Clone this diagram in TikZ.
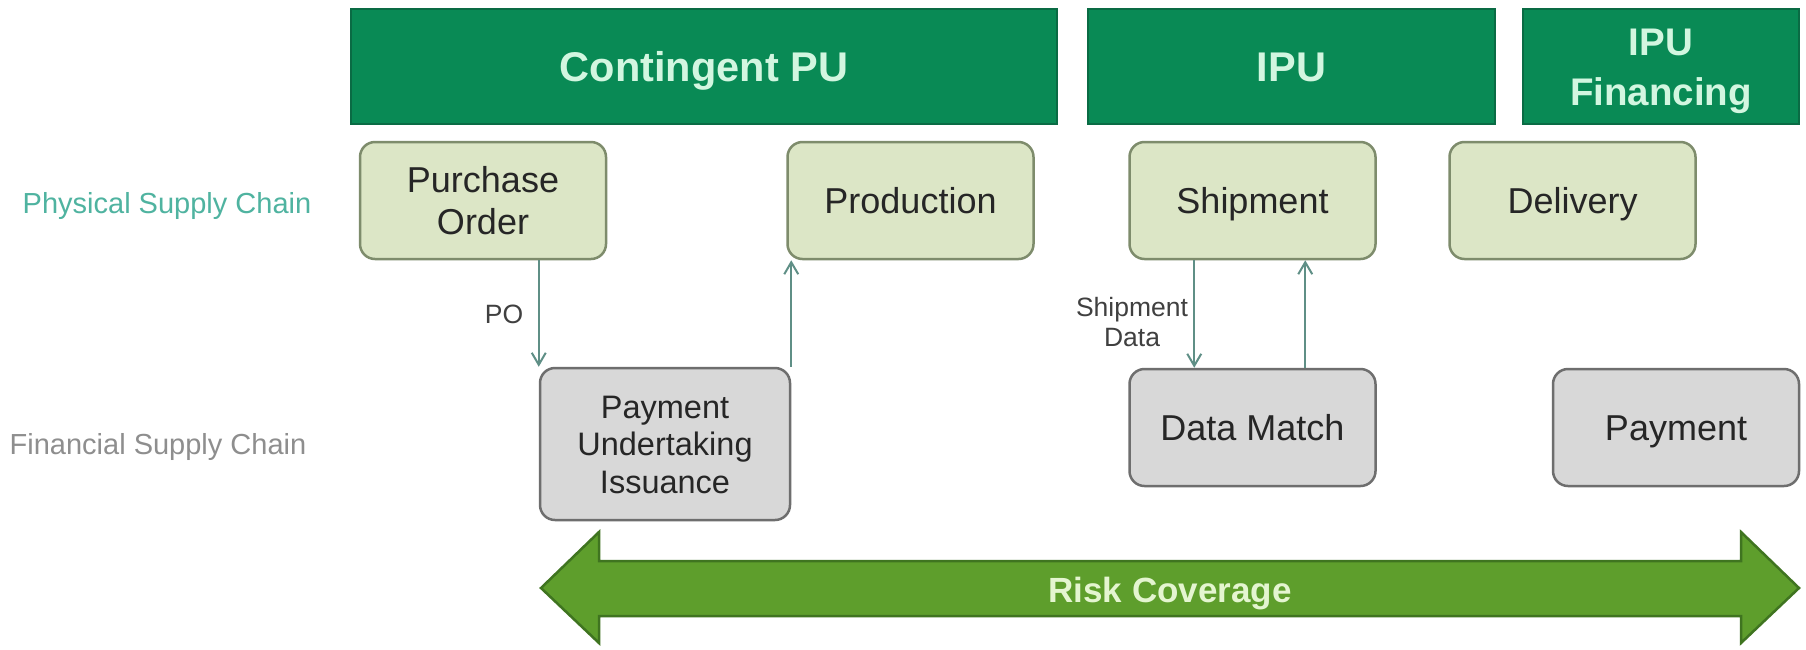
\documentclass[tikz,border=0pt]{standalone}
\usepackage{fontspec}
\setmainfont{Liberation Sans}
\usetikzlibrary{arrows.meta}
\definecolor{hdrfill}{HTML}{098A55}
\definecolor{hdrdraw}{HTML}{0A6B44}
\definecolor{hdrtext}{HTML}{D2F6E0}
\definecolor{physfill}{HTML}{DCE6C6}
\definecolor{physdraw}{HTML}{7E8C6C}
\definecolor{finfill}{HTML}{D8D8D8}
\definecolor{findraw}{HTML}{6E6E6E}
\definecolor{conncol}{HTML}{5F8F86}
\definecolor{physlabel}{HTML}{4FB3A0}
\definecolor{finlabel}{HTML}{8E8E8E}
\definecolor{riskfill}{HTML}{5E9E2C}
\definecolor{riskdraw}{HTML}{3F7420}
\definecolor{risktext}{HTML}{E4F5D0}
\newcommand{\captopstrut}{\rule{0pt}{1.06em}}
\newcommand{\capbotstrut}{\rule[-0.34em]{0pt}{0pt}}
\begin{document}
\begin{tikzpicture}[x=1pt,y=-1pt,
  capcenter/.style={execute at begin node=\captopstrut,execute at end node=\capbotstrut},
  hdrbox/.style={fill=hdrfill,draw=hdrdraw,line width=1.5pt,text=hdrtext,
    font=\fontsize{41.5}{48}\selectfont\bfseries,align=center,inner sep=0pt,capcenter},
  physbox/.style={fill=physfill,draw=physdraw,line width=2.5pt,rounded corners=15pt,
    minimum width=246pt,minimum height=117pt,font=\fontsize{36}{41.5}\selectfont,
    align=center,text=black!85,inner sep=0pt,capcenter},
  finbox/.style={fill=finfill,draw=findraw,line width=2.5pt,rounded corners=15pt,
    minimum width=246pt,minimum height=117pt,font=\fontsize{36}{41.5}\selectfont,
    align=center,text=black!85,inner sep=0pt,capcenter},
  conn/.style={draw=conncol,line width=2pt,-{Straight Barb[length=12pt,width=14pt,line width=2pt]}},
  rowlabel/.style={font=\fontsize{29}{34}\selectfont,inner sep=0pt,capcenter},
  smalllabel/.style={font=\fontsize{26.5}{30}\selectfont,text=black!75,align=center,inner sep=0pt}
]
\useasboundingbox (0,0) rectangle (1806,649);
\fill[white] (0,0) rectangle (1806,649);

% headers
\node[hdrbox,minimum width=706pt,minimum height=115pt] (cpu) at (704,66.5) {Contingent PU};
\node[hdrbox,minimum width=407pt,minimum height=115pt] (ipu) at (1291.5,66.5) {IPU};
\node[hdrbox,minimum width=276pt,minimum height=115pt,font=\fontsize{38.5}{50}\selectfont\bfseries] (ipuf) at (1661,66.5) {\captopstrut IPU\\Financing\capbotstrut};

% row labels
\node[rowlabel,text=physlabel] (plabel) at (167,203) {Physical Supply Chain};
\node[rowlabel,text=finlabel] (flabel) at (158,444) {Financial Supply Chain};

% physical boxes
\node[physbox] (po) at (483,200.5) {\captopstrut Purchase\\Order\capbotstrut};
\node[physbox] (prod) at (910.5,200.5) {Production};
\node[physbox] (ship) at (1252.5,200.5) {Shipment};
\node[physbox] (deliv) at (1572.5,200.5) {Delivery};

% financial boxes
\node[finbox,minimum width=250pt,minimum height=152pt,font=\fontsize{32.5}{37.5}\selectfont] (pui) at (665,444) {\captopstrut Payment\\Undertaking\\Issuance\capbotstrut};
\node[finbox] (dm) at (1252.5,427.5) {Data Match};
\node[finbox] (pay) at (1676,427.5) {Payment};

% connectors
\draw[conn] (pui.north west |- po.south) -- (pui.north west);
\draw[conn] (pui.north east) -- (pui.north east |- prod.south);
\draw[conn] ([xshift=66pt]ship.south west) -- ([xshift=66pt]dm.north west);
\draw[conn] ([xshift=177pt]dm.north west) -- ([xshift=177pt]ship.south west);

\node[smalllabel] (polabel) at (504,314) {PO};
\node[smalllabel] (sdlabel) at (1132,322) {Shipment\\Data};

% risk coverage double arrow
\draw[fill=riskfill,draw=riskdraw,line width=2.5pt,line join=miter]
  (541,588) -- (599,532) -- (599,561) -- (1741,561) -- (1741,532) -- (1799,588)
  -- (1741,643) -- (1741,616) -- (599,616) -- (599,643) -- cycle;
\node[font=\fontsize{35}{40}\selectfont\bfseries,text=risktext,inner sep=0pt,capcenter] (risk) at (1170,589.5) {Risk Coverage};
\end{tikzpicture}
\end{document}
